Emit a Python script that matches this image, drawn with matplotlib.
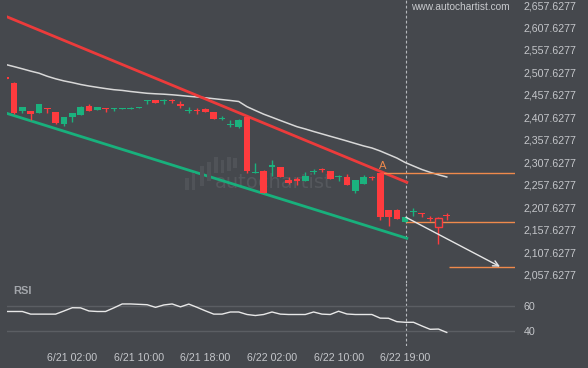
import matplotlib
matplotlib.use("Agg")
import matplotlib.pyplot as plt
from matplotlib.patches import Rectangle

plt.rcParams['font.family'] = ['Liberation Sans', 'DejaVu Sans']

# цвета
bg = '#45484d'
red = '#fe3b3e'
green = '#1bb27e'
orange = '#ef8a4c'
txt = '#c4c6ca'

# свечи (часовые), индекс = номер бара
opens = [2498.3, 2483.6, 2422.7, 2421.4, 2418.3, 2428.1, 2419.2, 2393.2, 2409.4, 2413.2,
         2433.8, 2424.9, 2428.1, 2425.4, 2426.5, 2427.2, 2429.2, 2444.3, 2446.5, 2443.6,
         2445.0, 2438.3, 2422.5, 2423.6, 2427.2, 2419.2, 2403.9, 2391.0, 2386.5, 2408.0,
         2284.9, 2288.7, 2298.7, 2297.6, 2269.4, 2270.3, 2266.5, 2286.3, 2293.2, 2288.7,
         2274.3, 2274.7, 2243.2, 2260.5, 2274.7, 2283.6, 2202.1, 2202.1, 2176.1, 2197.2,
         2193.8, 2183.2, 2183.6, 2189.6]
highs = [2498.3, 2487.2, 2430.3, 2422.0, 2438.5, 2428.5, 2419.5, 2408.5, 2418.0, 2433.2,
         2436.9, 2431.0, 2428.5, 2428.7, 2428.5, 2430.5, 2431.5, 2446.5, 2447.0, 2448.7,
         2448.0, 2444.3, 2430.9, 2428.7, 2428.0, 2420.0, 2409.9, 2402.1, 2403.5, 2409.0,
         2307.2, 2291.0, 2313.2, 2298.5, 2276.1, 2276.1, 2285.8, 2292.5, 2296.0, 2289.5,
         2279.9, 2282.1, 2269.5, 2279.9, 2277.6, 2284.5, 2202.5, 2204.3, 2186.5, 2205.8,
         2195.4, 2188.7, 2185.8, 2194.7]
lows = [2492.5, 2415.4, 2416.9, 2402.1, 2417.5, 2416.9, 2392.5, 2389.4, 2396.9, 2412.5,
        2422.0, 2424.0, 2420.5, 2422.1, 2426.0, 2425.5, 2428.8, 2437.6, 2440.0, 2437.6,
        2439.5, 2428.7, 2417.6, 2415.4, 2419.5, 2403.5, 2401.0, 2386.5, 2383.6, 2283.6,
        2283.6, 2239.5, 2278.3, 2275.0, 2260.5, 2257.6, 2265.5, 2282.1, 2287.2, 2270.0,
        2267.2, 2257.5, 2239.8, 2259.5, 2269.8, 2180.5, 2167.2, 2182.0, 2175.5, 2189.4,
        2185.8, 2176.9, 2125.8, 2179.8]
closes = [2492.5, 2416.9, 2430.3, 2414.7, 2437.6, 2426.5, 2396.0, 2408.0, 2417.6, 2430.3,
          2422.7, 2430.3, 2425.8, 2426.5, 2427.8, 2428.7, 2431.0, 2446.5, 2440.5, 2445.0,
          2443.6, 2433.2, 2424.3, 2422.1, 2420.5, 2404.3, 2405.6, 2393.2, 2402.7, 2288.7,
          2287.2, 2240.5, 2301.4, 2276.1, 2261.4, 2267.2, 2277.6, 2288.1, 2291.6, 2270.9,
          2276.1, 2258.3, 2268.7, 2275.4, 2272.5, 2187.2, 2187.2, 2182.7, 2185.8, 2199.4,
          2192.5, 2181.4, 2163.6, 2187.8]
hollow_bar = 52

# скользящая средняя (белая линия)
ma = [2525.4, 2520.7, 2515.8, 2510.7, 2506.1, 2499.2, 2493.6, 2488.9, 2485.2, 2481.0,
      2477.6, 2474.7, 2471.9, 2469.4, 2467.8, 2465.4, 2463.4, 2461.4, 2460.3, 2459.4,
      2458.1, 2456.5, 2454.7, 2453.2, 2451.4, 2449.4, 2447.4, 2445.4, 2443.2, 2431.6,
      2423.2, 2415.0, 2408.1, 2401.0, 2394.1, 2387.2, 2382.1, 2376.5, 2371.2, 2365.9,
      2360.7, 2355.4, 2349.9, 2344.5, 2339.9, 2333.2, 2325.4, 2317.6, 2307.6, 2299.8,
      2292.1, 2285.8, 2280.3, 2275.4]

# RSI
rsi = [55.9, 55.9, 55.9, 53.8, 53.8, 53.8, 53.8, 56.3, 58.9, 58.8,
       56.3, 55.9, 55.9, 58.8, 61.9, 61.9, 61.6, 61.3, 59.2, 61.1,
       61.9, 59.6, 61.8, 59.2, 56.4, 53.8, 53.8, 55.5, 55.5, 53.5,
       52.7, 53.5, 55.5, 53.8, 53.5, 53.5, 53.5, 55.5, 53.8, 53.5,
       56.1, 53.9, 53.5, 53.5, 53.5, 50.6, 50.5, 47.8, 47.3, 47.3,
       44.4, 41.7, 41.9, 39.2]

# линии канала: (бар, цена)
resist_x = [0.15, 48.2]
resist_y = [2631.4, 2263.6]
support_x = [0.12, 48.2]
support_y = [2416.9, 2139.2]

# уровни и прогноз
level_top = 2283.6
level_mid = 2175.4
level_low = 2076.1
arrow_start = (48.1, 2185.8)
arrow_end = (59.4, 2076.1)
now_bar = 48.1

time_pos = [8, 16, 24, 32, 40, 48]
time_labels = ['6/21 02:00', '6/21 10:00', '6/21 18:00', '6/22 02:00', '6/22 10:00', '6/22 19:00']
price_ticks = [2057.6277 + 50 * k for k in range(13)]
rsi_ticks = [40, 60]

W, H = 588, 368
fig = plt.figure(figsize=(W / 100, H / 100), dpi=100, facecolor=bg)
ax = fig.add_axes([7 / W, (H - 283) / H, 508 / W, 283 / H], facecolor=bg)
ax2 = fig.add_axes([7 / W, (H - 346) / H, 508 / W, 63 / H], facecolor=bg)

x0, x1 = 0.156, 61.2
ax.set_xlim(x0, x1)
ax.set_ylim(2039.8, 2668.74)
ax2.set_xlim(x0, x1)
ax2.set_ylim(28.4, 78.6)

# водяной знак в центре: столбики логотипа + надпись
logo = [(185, 178, 190), (192, 173, 190), (200, 166, 186), (207, 162, 181),
        (214, 157, 173), (221, 160, 173), (227, 157, 171), (233, 158, 168)]
for lx, top, bot in logo:
    fig.patches.append(Rectangle((lx / W, (H - bot) / H), 3.5 / W, (bot - top) / H,
                                 transform=fig.transFigure, facecolor='#505358',
                                 edgecolor='none', zorder=0))
ax.text(0.41, 0.355, 'autochartist', transform=ax.transAxes, color='#55585d',
        fontsize=14, ha='left', va='center', family='DejaVu Sans', zorder=0)

# свечи
idx = list(range(len(opens)))
for i in idx:
    o, h, l, c = opens[i], highs[i], lows[i], closes[i]
    col = green if c >= o else red
    ax.vlines(i, l, h, color=col, lw=1.0, zorder=3)
    lo = min(o, c)
    hgt = max(abs(c - o), 2.6)
    if i == hollow_bar:
        ax.bar(i, hgt, bottom=lo, width=0.8, facecolor=bg, edgecolor=col, lw=1.0, zorder=4)
    else:
        ax.bar(i, hgt, bottom=lo, width=0.8, color=col, lw=0, zorder=4)

ax.plot(idx, ma, color='#d8d8d8', lw=1.1, zorder=2)
ax.plot(resist_x, resist_y, color='#ec3b3b', lw=2.0, zorder=2)
ax.plot(support_x, support_y, color='#18b07c', lw=2.0, zorder=2)

ax.hlines(level_top, 45, x1, color=orange, lw=1.0, zorder=2)
ax.hlines(level_mid, now_bar, x1, color=orange, lw=1.0, zorder=2)
ax.hlines(level_low, 53.3, x1, color=orange, lw=1.0, zorder=2)
ax.annotate('', xy=arrow_end, xytext=arrow_start,
            arrowprops=dict(arrowstyle='->', color='#e6e6e6', lw=1.0,
                            shrinkA=0, shrinkB=0, mutation_scale=10), zorder=5)
ax.text(45.3, level_top + 6, 'A', color=orange, fontsize=8, ha='center', va='bottom')

ax.text(0.795, 0.975, 'www.autochartist.com', transform=ax.transAxes, color='#c8cacd',
        fontsize=7.3, ha='left', va='center')

ax.axvline(now_bar, color='#b6b9bd', lw=0.8, ls=(0, (2.5, 2)), zorder=1)
ax2.axvline(now_bar, color='#b6b9bd', lw=0.8, ls=(0, (2.5, 2)), zorder=1)

# RSI
for v in rsi_ticks:
    ax2.axhline(v, color='#5b5e63', lw=1.0, zorder=1)
ax2.plot(idx, rsi, color='#e8e8e8', lw=1.0, zorder=3)
ax2.text(0.012, 0.87, 'RSI', transform=ax2.transAxes, color='#a3a6ab',
         fontsize=8, fontweight='bold', ha='left', va='center')

# оси
for a in (ax, ax2):
    for s in a.spines.values():
        s.set_visible(False)
    a.yaxis.tick_right()
    a.tick_params(axis='both', length=0, colors=txt, labelsize=7.7)
    a.tick_params(axis='y', pad=6)

ax.set_xticks([])
ax.set_yticks(price_ticks)
ax.set_yticklabels([f'{v:,.4f}' for v in price_ticks])
ax2.set_yticks(rsi_ticks)
ax2.set_xticks(time_pos)
ax2.set_xticklabels(time_labels)
ax2.tick_params(axis='x', pad=5)

fig.savefig('out.png', dpi=100, facecolor=bg)
